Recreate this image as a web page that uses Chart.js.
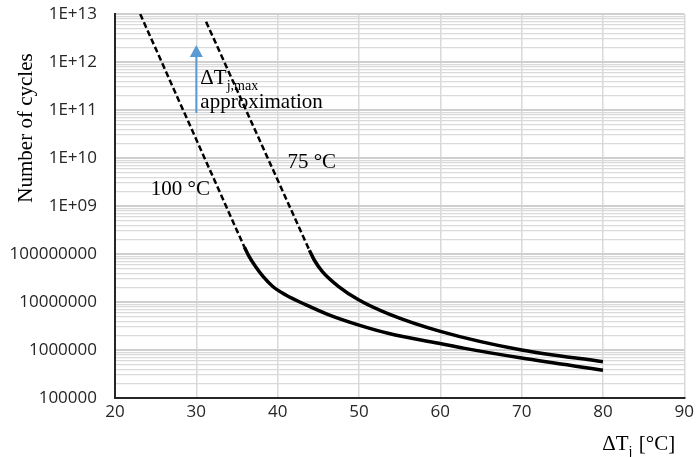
<!DOCTYPE html>
<html>
<head>
<meta charset="utf-8">
<script src="https://cdn.jsdelivr.net/npm/chart.js@4.4.1/dist/chart.umd.min.js"></script>
<style>
    html, body { margin: 0; padding: 0; background: #fff; }
    canvas { display: block; }
</style>
</head>
<body>
<canvas id="cycles-chart" width="698" height="457"></canvas>
<script>
// Lifetime curves: number of cycles vs junction temperature swing
const temps100 = [23.1, 35.9, 36.5, 37.3, 38.2, 39.4, 41.0, 43.5, 46.3, 50, 53.7, 59.8, 63, 70, 80];
const cycles100 = [1e13, 1.4e8, 8.8e7, 5.4e7, 3.4e7, 2.1e7, 1.4e7, 8.7e6, 5.4e6, 3.3e6, 2.2e6, 1.38e6, 1.08e6, 6.8e5, 3.8e5];
const temps75 = [31.2, 43.9, 44.5, 45.5, 47.5, 50, 53.7, 60, 70, 80];
const cycles75 = [6.9e12, 1.2e8, 7.5e7, 4.3e7, 2.1e7, 1.1e7, 5.6e6, 2.45e6, 1.0e6, 5.7e5];
// last index of the extrapolated (dashed) part of each curve
const dashedEnd100 = 1;
const dashedEnd75 = 1;

// axis ranges
const xRange = [20, 90];
const xStep = 10;
const yDecades = [5, 13];

// ΔTj,max approximation arrow (at ΔTj = 30)
const arrowX = 30;
const arrowFrom = 8.7e10;
const arrowTo = 2.26e12;

// curve labels, anchored in data units
const curveLabels = [
    { text: '100 °C', x: 24.4, y: 1.7e9 },
    { text: '75 °C', x: 41.2, y: 6.3e9 }
];

function toPoints(xs, ys) {
    return xs.map((x, i) => ({ x: x, y: ys[i] }));
}

function isDecade(v) {
    const l = Math.log10(v);
    return Math.abs(l - Math.round(l)) < 1e-6;
}

function cycleLabel(v) {
    if (!isDecade(v)) return '';
    const e = Math.round(Math.log10(v));
    if (e >= 9) return '1E+' + String(e).padStart(2, '0');
    return String(Math.pow(10, e));
}

// 1..9 x 10^n ticks so that every minor line gets a grid line
function logTicks() {
    const ticks = [];
    for (let e = yDecades[0]; e < yDecades[1]; e++) {
        for (let m = 1; m <= 9; m++) {
            ticks.push({ value: m * Math.pow(10, e) });
        }
    }
    ticks.push({ value: Math.pow(10, yDecades[1]) });
    return ticks;
}

function curveDatasets(xs, ys, dashedEnd) {
    const pts = toPoints(xs, ys);
    return [
        {
            data: pts.slice(0, dashedEnd + 1),
            borderColor: '#000',
            borderWidth: 2.5,
            borderDash: [6, 3],
            pointRadius: 0,
            fill: false
        },
        {
            data: pts.slice(dashedEnd),
            borderColor: '#000',
            borderWidth: 3.5,
            cubicInterpolationMode: 'monotone',
            pointRadius: 0,
            fill: false
        }
    ];
}

// text with a subscript part, e.g. ΔT_j
function drawSubText(ctx, parts, x, y, size) {
    let cx = x;
    parts.forEach(p => {
        const s = p.sub ? size * 0.67 : size;
        ctx.font = `${s}px "Liberation Serif", "Times New Roman", serif`;
        ctx.fillText(p.text, cx, p.sub ? y + 6 : y);
        cx += ctx.measureText(p.text).width + (p.sub ? 1 : 0);
    });
}

const annotationPlugin = {
    id: 'annotations',
    afterDatasetsDraw(chart) {
        const ctx = chart.ctx;
        const xs = chart.scales.x;
        const ys = chart.scales.y;

        // arrow
        const ax = xs.getPixelForValue(arrowX);
        const y0 = ys.getPixelForValue(arrowFrom);
        const y1 = ys.getPixelForValue(arrowTo);
        ctx.save();
        ctx.strokeStyle = '#5b9bd5';
        ctx.fillStyle = '#5b9bd5';
        ctx.lineWidth = 2;
        ctx.beginPath();
        ctx.moveTo(ax, y0);
        ctx.lineTo(ax, y1 + 11);
        ctx.stroke();
        ctx.beginPath();
        ctx.moveTo(ax, y1);
        ctx.lineTo(ax - 6.5, y1 + 12);
        ctx.lineTo(ax + 6.5, y1 + 12);
        ctx.closePath();
        ctx.fill();

        ctx.fillStyle = '#000';
        ctx.textAlign = 'left';
        ctx.textBaseline = 'alphabetic';
        drawSubText(ctx, [{ text: 'ΔT' }, { text: 'j,max', sub: true }], ax + 4, y1 + 39, 21);
        ctx.font = '21px "Liberation Serif", "Times New Roman", serif';
        ctx.fillText('approximation', ax + 4, y1 + 63);

        curveLabels.forEach(l => {
            ctx.fillText(l.text, xs.getPixelForValue(l.x), ys.getPixelForValue(l.y));
        });
        ctx.restore();
    },
    afterDraw(chart) {
        const ctx = chart.ctx;
        const area = chart.chartArea;
        ctx.save();
        ctx.fillStyle = '#000';
        ctx.textBaseline = 'alphabetic';

        // x axis title
        ctx.textAlign = 'left';
        drawSubText(ctx, [{ text: 'ΔT' }, { text: 'j', sub: true }, { text: ' [°C]' }],
            area.right - 82, area.bottom + 52, 21);

        // y axis title
        ctx.translate(32, area.top + 114);
        ctx.rotate(-Math.PI / 2);
        ctx.textAlign = 'center';
        ctx.font = '21px "Liberation Serif", "Times New Roman", serif';
        ctx.fillText('Number of cycles', 0, 0);
        ctx.restore();
    }
};

const tickFont = { family: '"Open Sans", "Noto Sans", sans-serif', size: 17 };

new Chart(document.getElementById('cycles-chart'), {
    type: 'line',
    data: {
        datasets: [
            ...curveDatasets(temps100, cycles100, dashedEnd100),
            ...curveDatasets(temps75, cycles75, dashedEnd75)
        ]
    },
    options: {
        responsive: false,
        animation: false,
        layout: { padding: { top: 0, right: 11, left: 0, bottom: 0 } },
        plugins: {
            legend: { display: false },
            tooltip: { enabled: false }
        },
        scales: {
            x: {
                type: 'linear',
                min: xRange[0],
                max: xRange[1],
                afterFit: (scale) => { scale.height = 59; },
                ticks: {
                    stepSize: xStep,
                    color: '#262626',
                    font: tickFont,
                    padding: 4,
                    maxRotation: 0
                },
                grid: {
                    color: '#d9d9d9',
                    lineWidth: 1.5,
                    drawTicks: false
                },
                border: { display: true, color: '#262626', width: 2 }
            },
            y: {
                type: 'logarithmic',
                min: Math.pow(10, yDecades[0]),
                max: Math.pow(10, yDecades[1]),
                afterBuildTicks: (scale) => { scale.ticks = logTicks(); },
                afterFit: (scale) => {
                    scale.width = 115;
                    scale.paddingTop = 14;
                    scale.paddingBottom = 0;
                },
                ticks: {
                    autoSkip: false,
                    color: '#262626',
                    font: tickFont,
                    padding: 18,
                    callback: (v) => cycleLabel(v)
                },
                grid: {
                    color: (c) => (c.tick && isDecade(c.tick.value)) ? '#cfcfcf' : '#dadada',
                    lineWidth: (c) => (c.tick && isDecade(c.tick.value)) ? 2 : 1.2,
                    drawTicks: false
                },
                border: { display: true, color: '#262626', width: 2 }
            }
        }
    },
    plugins: [annotationPlugin]
});
</script>
</body>
</html>
